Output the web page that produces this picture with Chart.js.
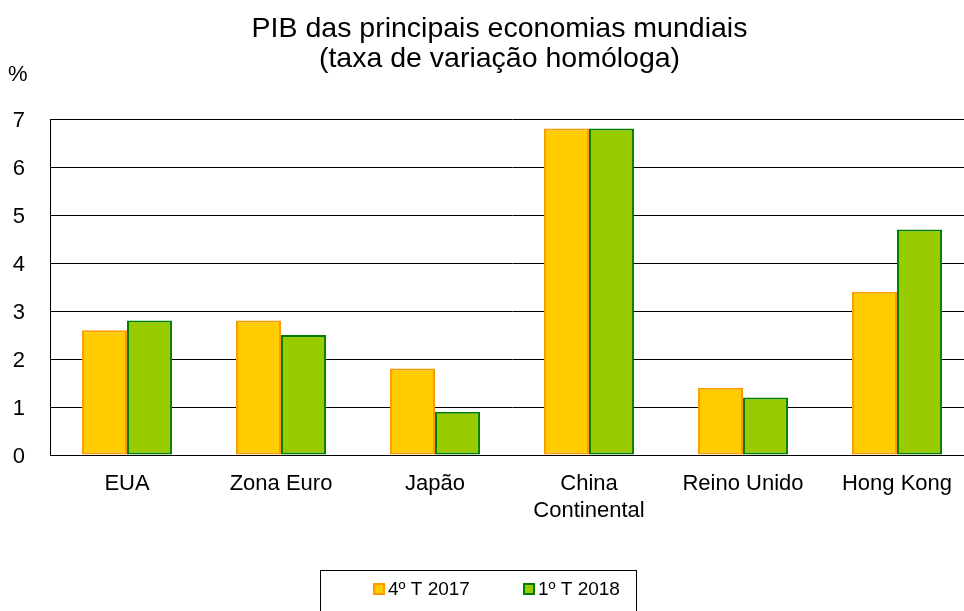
<!DOCTYPE html>
<html>
<head>
<meta charset="utf-8">
<script src="https://cdn.jsdelivr.net/npm/chart.js@4/dist/chart.umd.min.js"></script>
<style>
    html, body { margin: 0; padding: 0; background: #fff; overflow: hidden; }
    #wrap { width: 964px; height: 611px; position: relative; overflow: hidden; }
</style>
</head>
<body>
<div id="wrap"><canvas id="pibChart" width="999" height="611"></canvas></div>
<script>
// Chart data
const categories = ['EUA', 'Zona Euro', 'Japão', ['China', 'Continental'], 'Reino Unido', 'Hong Kong'];
const seriesNames = ['4º T 2017', '1º T 2018'];
const q4_2017 = [2.6, 2.8, 1.8, 6.8, 1.4, 3.4];
const q1_2018 = [2.8, 2.5, 0.9, 6.8, 1.2, 4.7];
const yTicks = [0, 1, 2, 3, 4, 5, 6, 7];
const titleLines = ['PIB das principais economias mundiais', '(taxa de variação homóloga)'];

const FONT = "'Liberation Sans', Arial, sans-serif";

// draws the title, the "%" unit label and the boxed legend (Excel style)
const extrasPlugin = {
    id: 'extras',
    afterDraw(chart) {
        const ctx = chart.ctx;
        ctx.save();
        ctx.fillStyle = '#000';

        // title (centred like the original, not on the canvas centre)
        ctx.font = '28.5px ' + FONT;
        ctx.textAlign = 'center';
        ctx.textBaseline = 'middle';
        titleLines.forEach((line, i) => {
            ctx.fillText(line, 499.5, 29.5 + i * 30);
        });

        ctx.font = '22px ' + FONT;
        ctx.textAlign = 'left';
        ctx.fillText('%', 8, 75);

        // legend frame
        ctx.strokeStyle = '#000';
        ctx.lineWidth = 1;
        ctx.strokeRect(320.5, 570.5, 316, 60);

        // legend items
        const items = chart.data.datasets;
        let x = 374;
        const y = 589;
        ctx.font = '19px ' + FONT;
        items.forEach((ds, i) => {
            ctx.fillStyle = ds.backgroundColor;
            ctx.fillRect(x, y - 5, 10, 10);
            ctx.strokeStyle = ds.borderColor;
            ctx.lineWidth = 2;
            ctx.strokeRect(x, y - 5, 10, 10);
            ctx.fillStyle = '#000';
            ctx.fillText(ds.label, x + 14, y + 1);
            x += 150;
        });
        ctx.restore();
    }
};

let pibChart = null;

document.addEventListener("DOMContentLoaded", function () {
    const ctx = document.getElementById('pibChart').getContext('2d');
    pibChart = new Chart(ctx, {
        type: 'bar',
        data: {
            labels: categories,
            datasets: [
                {
                    label: seriesNames[0],
                    data: q4_2017,
                    backgroundColor: '#FFCC00',
                    borderColor: '#FF9900',
                    borderWidth: 2,
                    borderSkipped: false
                },
                {
                    label: seriesNames[1],
                    data: q1_2018,
                    backgroundColor: '#99CC00',
                    borderColor: '#008000',
                    borderWidth: 2,
                    borderSkipped: false
                }
            ]
        },
        options: {
            responsive: false,
            animation: false,
            layout: { padding: { top: 119, right: 25, bottom: 0, left: 0 } },
            datasets: {
                bar: { barPercentage: 1, categoryPercentage: 0.585 }
            },
            scales: {
                x: {
                    grid: { display: false, drawTicks: false },
                    border: { display: true, color: '#000', width: 1 },
                    ticks: {
                        color: '#000',
                        font: { family: FONT, size: 22, lineHeight: 1.2 },
                        padding: 16,
                        maxRotation: 0,
                        autoSkip: false
                    },
                    afterFit(scale) { scale.height = 156; }
                },
                y: {
                    min: 0,
                    max: 7,
                    afterBuildTicks(scale) { scale.ticks = yTicks.map(v => ({ value: v })); },
                    grid: { color: '#000', lineWidth: 1, drawTicks: false },
                    border: { display: true, color: '#000', width: 1 },
                    ticks: {
                        color: '#000',
                        font: { family: FONT, size: 22 },
                        padding: 25,
                        labelOffset: 2
                    },
                    afterFit(scale) { scale.width = 50; }
                }
            },
            plugins: {
                title: { display: false },
                legend: { display: false },
                tooltip: { enabled: false }
            }
        },
        plugins: [extrasPlugin]
    });
});
</script>
</body>
</html>
